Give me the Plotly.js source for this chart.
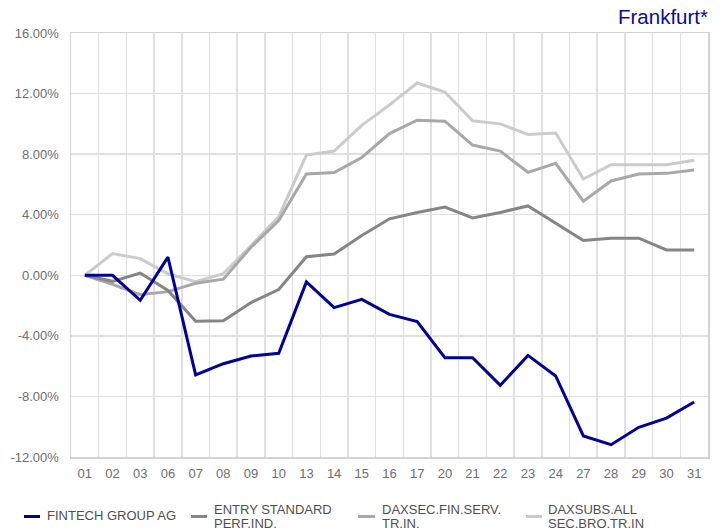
<!DOCTYPE html>
<html>
<head>
<meta charset="utf-8">
<script src="https://cdn.plot.ly/plotly-3.0.1.min.js"></script>
<style>html,body{margin:0;padding:0;background:#fff;}#chart{width:723px;height:531px;}</style>
</head>
<body>
<div id="chart"></div>
<script>
// Trading days (x categories)
const days = ['01','02','03','06','07','08','09','10','13','14','15','16','17','20','21','22','23','24','27','28','29','30','31'];

// Performance in percent
const fintech = [0, 0, -1.65, 1.2, -6.58, -5.84, -5.33, -5.15, -0.44, -2.14, -1.59, -2.58, -3.06, -5.44, -5.44, -7.27, -5.29, -6.65, -10.61, -11.19, -10.04, -9.43, -8.37];
const entryStandard = [0, -0.4, 0.15, -1.0, -3.03, -3.0, -1.8, -0.94, 1.23, 1.4, 2.63, 3.73, 4.14, 4.5, 3.79, 4.15, 4.58, 3.42, 2.3, 2.45, 2.45, 1.67, 1.67];
const daxsecFinServ = [0, -0.6, -1.28, -1.08, -0.53, -0.26, 1.85, 3.62, 6.69, 6.78, 7.78, 9.36, 10.24, 10.18, 8.6, 8.2, 6.8, 7.39, 4.89, 6.23, 6.69, 6.73, 6.95];
const daxsubsBro = [0, 1.43, 1.1, 0.1, -0.42, 0.1, 1.95, 3.88, 7.94, 8.2, 9.9, 11.25, 12.7, 12.1, 10.2, 10.0, 9.3, 9.4, 6.36, 7.3, 7.3, 7.3, 7.6];

const seriesNames = ['FINTECH GROUP AG', 'ENTRY STANDARD<br>PERF.IND.', 'DAXSEC.FIN.SERV.<br>TR.IN.', 'DAXSUBS.ALL<br>SEC.BRO.TR.IN'];
const seriesValues = [fintech, entryStandard, daxsecFinServ, daxsubsBro];
const seriesColors = ['#00009a', '#858585', '#a8a8a8', '#cbcbcb'];

const yTickVals = [-12, -8, -4, 0, 4, 8, 12, 16];
const yTickText = yTickVals.map(v => v.toFixed(2) + '%');

const W = 723, H = 531;
const plotL = 71, plotR = 708, plotT = 33, plotB = 457;

// draw lighter series first so blue is on top
const order = [3, 2, 1, 0];
const traces = order.map(i => ({
  type: 'scatter', mode: 'lines',
  x: days, y: seriesValues[i],
  name: seriesNames[i],
  line: {color: seriesColors[i], width: 3},
  hoverinfo: 'skip'
}));

// custom legend (short line symbols, left-aligned text)
const legendSym = [[24, 40], [191, 207], [358, 375], [526, 542]];
const legendText = [45, 212, 380, 546];
const legendY = 516.5;
const px = v => (v - plotL) / (plotR - plotL);
const py = v => (plotB - v) / (plotB - plotT);

const shapes = [];
const annotations = [];
seriesNames.forEach((nm, i) => {
  shapes.push({type: 'line', xref: 'paper', yref: 'paper',
    x0: px(legendSym[i][0]), x1: px(legendSym[i][1]), y0: py(legendY), y1: py(legendY),
    line: {color: seriesColors[i], width: 3}});
  const lines = nm.split('<br>');
  const ys = lines.length === 1 ? [legendY - 1] : [509, 523];
  lines.forEach((t, k) => {
    annotations.push({xref: 'paper', yref: 'paper', x: px(legendText[i]), y: py(ys[k]),
      xanchor: 'left', yanchor: 'middle', showarrow: false, text: t,
      font: {family: 'Liberation Sans, Arial, sans-serif', size: 13, color: '#4f4f4f'}});
  });
});

const layout = {
  width: W, height: H,
  margin: {l: plotL, r: W - plotR, t: plotT, b: H - plotB},
  paper_bgcolor: '#ffffff', plot_bgcolor: '#ffffff',
  showlegend: false,
  font: {family: 'Liberation Sans, Arial, sans-serif', size: 13, color: '#6e6e6e'},
  title: {text: 'Frankfurt*', x: 1, xref: 'paper', xanchor: 'right',
    y: 1 - 17 / H, yref: 'container', yanchor: 'middle',
    font: {family: 'Liberation Sans, Arial, sans-serif', size: 20.5, color: '#0a0a96'}},
  xaxis: {type: 'category', categoryorder: 'array', categoryarray: days,
    range: [-0.5, days.length - 0.5], autorange: false,
    tickson: 'boundaries', showgrid: true, gridcolor: '#e0e0e0', gridwidth: 1.5,
    showline: true, linecolor: '#d4d4d4', linewidth: 1.5, mirror: true,
    ticks: '', ticklabelstandoff: 4, zeroline: false,
    tickfont: {size: 13, color: '#6e6e6e'}},
  yaxis: {range: [-12, 16], autorange: false, tickmode: 'array', tickvals: yTickVals, ticktext: yTickText,
    showgrid: true, gridcolor: '#e0e0e0', gridwidth: 1.5, zeroline: false,
    showline: true, linecolor: '#d4d4d4', linewidth: 1.5, mirror: true,
    ticks: '', ticklabelstandoff: 8,
    tickfont: {size: 13, color: '#6e6e6e'}},
  shapes: shapes,
  annotations: annotations
};

Plotly.newPlot('chart', traces, layout, {displayModeBar: false, staticPlot: true});
</script>
</body>
</html>
